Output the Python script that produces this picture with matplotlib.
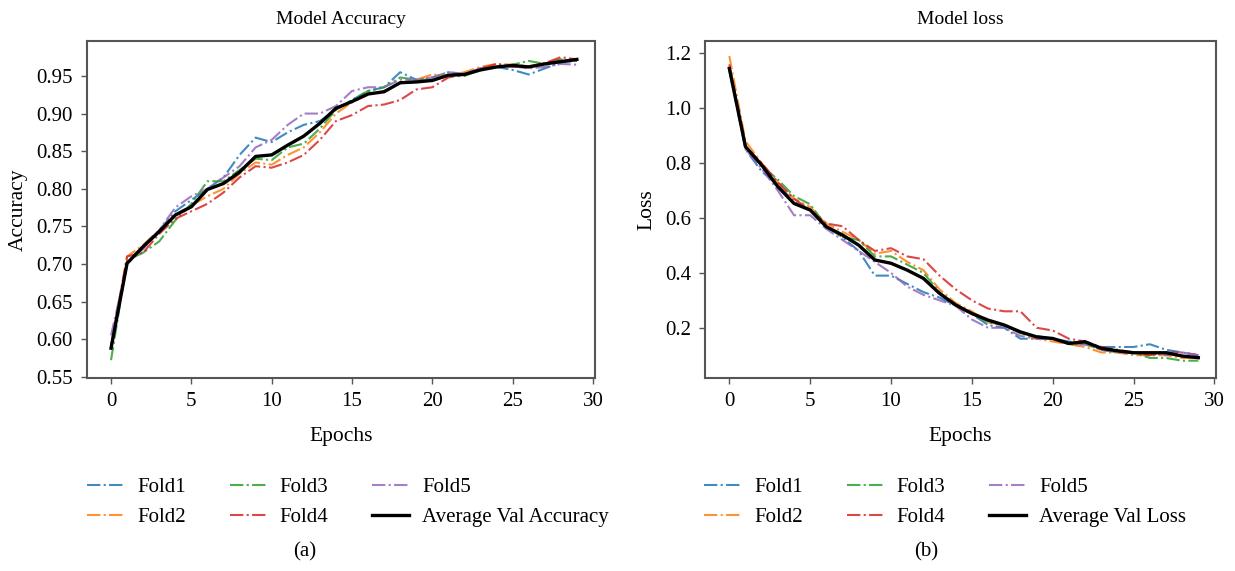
import matplotlib.pyplot as plt

plt.rcParams['font.family'] = ['Liberation Serif', 'DejaVu Serif']
plt.rcParams['font.size'] = 14

epochs = list(range(30))

# Validierungsgenauigkeit je Fold
acc_fold1 = [0.59, 0.70, 0.725, 0.745, 0.77, 0.785, 0.80, 0.815, 0.845, 0.868,
             0.862, 0.875, 0.885, 0.89, 0.905, 0.918, 0.93, 0.935, 0.955, 0.945,
             0.948, 0.955, 0.952, 0.96, 0.962, 0.958, 0.952, 0.96, 0.968, 0.97]
acc_fold2 = [0.59, 0.71, 0.725, 0.745, 0.765, 0.778, 0.79, 0.80, 0.82, 0.835,
             0.832, 0.845, 0.855, 0.875, 0.90, 0.915, 0.925, 0.93, 0.94, 0.945,
             0.952, 0.95, 0.955, 0.962, 0.966, 0.965, 0.963, 0.967, 0.972, 0.97]
acc_fold3 = [0.572, 0.705, 0.715, 0.73, 0.758, 0.78, 0.81, 0.81, 0.825, 0.84,
             0.838, 0.855, 0.86, 0.88, 0.905, 0.918, 0.93, 0.935, 0.948, 0.945,
             0.945, 0.95, 0.95, 0.958, 0.962, 0.965, 0.97, 0.966, 0.972, 0.97]
acc_fold4 = [0.59, 0.71, 0.715, 0.74, 0.76, 0.77, 0.78, 0.795, 0.815, 0.83,
             0.828, 0.835, 0.845, 0.865, 0.89, 0.898, 0.91, 0.912, 0.918, 0.932,
             0.935, 0.948, 0.952, 0.96, 0.966, 0.962, 0.962, 0.967, 0.975, 0.972]
acc_fold5 = [0.605, 0.70, 0.72, 0.745, 0.775, 0.79, 0.80, 0.815, 0.83, 0.855,
             0.865, 0.885, 0.90, 0.90, 0.91, 0.93, 0.935, 0.935, 0.945, 0.945,
             0.948, 0.955, 0.953, 0.96, 0.962, 0.963, 0.96, 0.962, 0.966, 0.965]
acc_avg = [0.588, 0.701, 0.723, 0.743, 0.765, 0.776, 0.799, 0.807, 0.822, 0.843,
           0.845, 0.858, 0.870, 0.887, 0.907, 0.916, 0.926, 0.929, 0.941, 0.942,
           0.944, 0.951, 0.952, 0.958, 0.962, 0.964, 0.962, 0.966, 0.969, 0.972]

# Validierungsverlust je Fold
loss_fold1 = [1.14, 0.85, 0.77, 0.72, 0.66, 0.63, 0.57, 0.53, 0.48, 0.39,
              0.39, 0.36, 0.33, 0.31, 0.28, 0.25, 0.21, 0.20, 0.16, 0.16,
              0.16, 0.15, 0.14, 0.13, 0.13, 0.13, 0.14, 0.12, 0.11, 0.10]
loss_fold2 = [1.19, 0.88, 0.80, 0.73, 0.67, 0.64, 0.58, 0.55, 0.52, 0.47,
              0.48, 0.44, 0.41, 0.34, 0.29, 0.26, 0.22, 0.21, 0.18, 0.16,
              0.15, 0.14, 0.13, 0.11, 0.11, 0.10, 0.10, 0.10, 0.09, 0.09]
loss_fold3 = [1.15, 0.86, 0.79, 0.74, 0.68, 0.65, 0.57, 0.53, 0.52, 0.46,
              0.46, 0.43, 0.40, 0.33, 0.28, 0.25, 0.22, 0.21, 0.18, 0.17,
              0.16, 0.14, 0.14, 0.12, 0.11, 0.11, 0.09, 0.09, 0.08, 0.08]
loss_fold4 = [1.16, 0.86, 0.80, 0.73, 0.67, 0.63, 0.58, 0.57, 0.52, 0.48,
              0.49, 0.46, 0.45, 0.39, 0.34, 0.30, 0.27, 0.26, 0.26, 0.20,
              0.19, 0.16, 0.15, 0.13, 0.12, 0.11, 0.10, 0.11, 0.11, 0.10]
loss_fold5 = [1.15, 0.85, 0.78, 0.70, 0.61, 0.61, 0.56, 0.52, 0.48, 0.44,
              0.40, 0.35, 0.32, 0.30, 0.28, 0.23, 0.20, 0.20, 0.17, 0.16,
              0.16, 0.14, 0.14, 0.12, 0.11, 0.11, 0.11, 0.10, 0.11, 0.10]
loss_avg = [1.145, 0.86, 0.793, 0.714, 0.653, 0.629, 0.568, 0.538, 0.501, 0.447,
            0.435, 0.41, 0.38, 0.325, 0.283, 0.252, 0.228, 0.21, 0.185, 0.167,
            0.161, 0.143, 0.149, 0.125, 0.116, 0.109, 0.109, 0.109, 0.097, 0.091]

fold_namen = ['Fold1', 'Fold2', 'Fold3', 'Fold4', 'Fold5']
fold_farben = ['tab:blue', 'tab:orange', 'tab:green', 'tab:red', 'tab:purple']

fig = plt.figure(figsize=(12.35, 5.71), dpi=100)
ax_acc = fig.add_axes([0.0704, 0.3385, 0.411, 0.5897])
ax_loss = fig.add_axes([0.5709, 0.3385, 0.4138, 0.5897])


def zeichne(ax, folds, avg, avg_label, titel, ylabel, ylim, yticks, ytick_fmt,
            leg_x, caption, cap_x):
    for werte, name, farbe in zip(folds, fold_namen, fold_farben):
        ax.plot(epochs, werte, linestyle='-.', color=farbe, linewidth=1.5,
                alpha=0.85, label=name)
    ax.plot(epochs, avg, color='black', linewidth=2.4, label=avg_label)

    ax.set_title(titel, fontsize=14, pad=12)
    ax.set_xlabel('Epochs', fontsize=15.5, labelpad=12)
    ax.set_ylabel(ylabel, fontsize=15.5, labelpad=6)
    ax.set_xlim(-1.5, 30.1)
    ax.set_ylim(*ylim)
    ax.set_xticks([0, 5, 10, 15, 20, 25, 30])
    ax.set_yticks(yticks)
    ax.set_yticklabels([ytick_fmt.format(t) for t in yticks])
    ax.tick_params(length=4, width=1, color='#555555', labelsize=15, pad=6)
    for spine in ax.spines.values():
        spine.set_color('#555555')
        spine.set_linewidth(1.5)

    handles, labels = ax.get_legend_handles_labels()
    fig.legend(handles, labels, loc='upper left', bbox_to_anchor=(leg_x, 0.197),
               ncol=3, frameon=False, fontsize=15, handlelength=1.75,
               columnspacing=2.1, labelspacing=0.5, handletextpad=0.65)
    fig.text(cap_x, 0.025, caption, ha='center', fontsize=15)


zeichne(ax_acc, [acc_fold1, acc_fold2, acc_fold3, acc_fold4, acc_fold5], acc_avg,
        'Average Val Accuracy', 'Model Accuracy', 'Accuracy', (0.5487, 0.9965),
        [0.55, 0.60, 0.65, 0.70, 0.75, 0.80, 0.85, 0.90, 0.95], '{:.2f}',
        0.0555, '(a)', 0.247)
zeichne(ax_loss, [loss_fold1, loss_fold2, loss_fold3, loss_fold4, loss_fold5], loss_avg,
        'Average Val Loss', 'Model loss', 'Loss', (0.018, 1.245),
        [0.2, 0.4, 0.6, 0.8, 1.0, 1.2], '{:.1f}',
        0.555, '(b)', 0.75)

fig.savefig('out.png', dpi=100)
